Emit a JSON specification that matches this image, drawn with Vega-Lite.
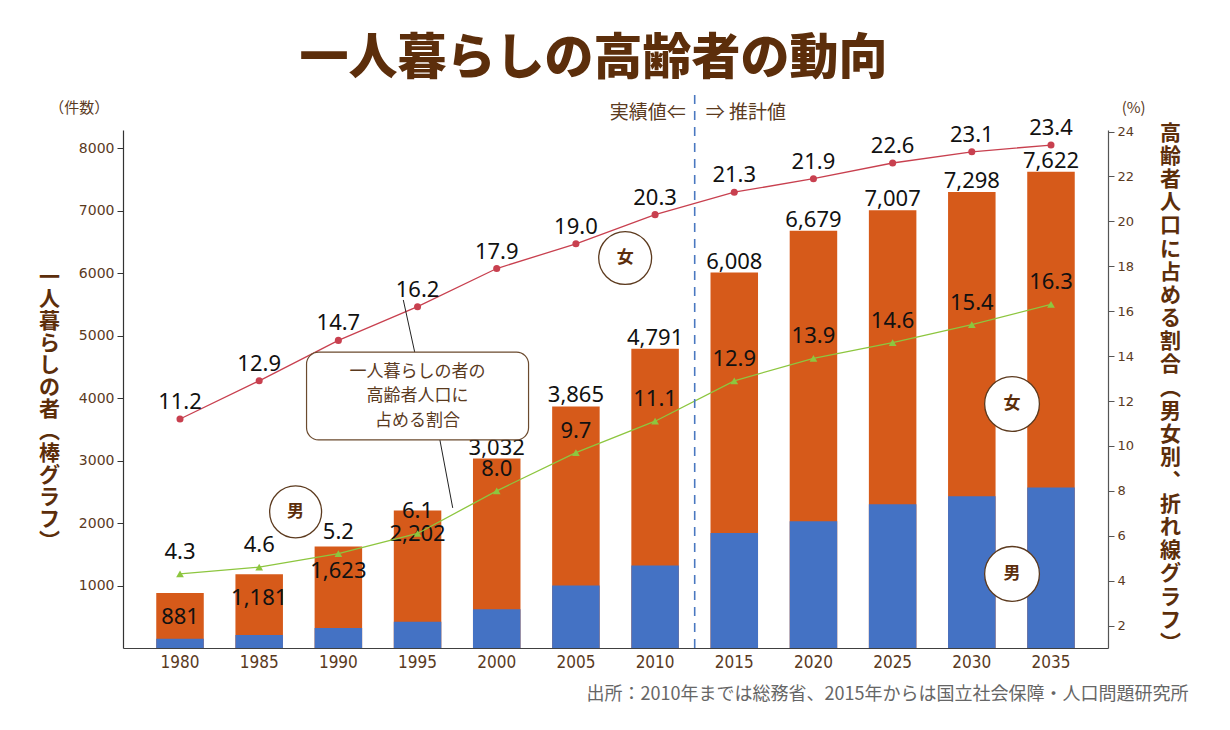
{
  "$schema": "https://vega.github.io/schema/vega-lite/v6.json",
  "width": 985,
  "height": 518,
  "autosize": {"type": "none"},
  "padding": {"left": 123, "top": 130, "right": 122, "bottom": 82},
  "background": "white",
  "config": {"view": {"stroke": null}, "font": "Noto Sans CJK JP"},
  "title": {"text": "一人暮らしの高齢者の動向", "font": "Noto Sans CJK JP", "fontSize": 49, "fontWeight": 900, "color": "#5C2E0B", "anchor": "middle", "frame": "group", "dx": -22, "offset": 10},
  "datasets": {
    "counts": [
      {"year": "1980", "total": 881, "male": 150},
      {"year": "1985", "total": 1181, "male": 210},
      {"year": "1990", "total": 1623, "male": 320},
      {"year": "1995", "total": 2202, "male": 420},
      {"year": "2000", "total": 3032, "male": 620},
      {"year": "2005", "total": 3865, "male": 1000},
      {"year": "2010", "total": 4791, "male": 1320},
      {"year": "2015", "total": 6008, "male": 1840},
      {"year": "2020", "total": 6679, "male": 2030},
      {"year": "2025", "total": 7007, "male": 2300},
      {"year": "2030", "total": 7298, "male": 2430},
      {"year": "2035", "total": 7622, "male": 2570}
    ],
    "rates": [
      {"year": "1980", "sex": "女", "pct": 11.2},
      {"year": "1985", "sex": "女", "pct": 12.9},
      {"year": "1990", "sex": "女", "pct": 14.7},
      {"year": "1995", "sex": "女", "pct": 16.2},
      {"year": "2000", "sex": "女", "pct": 17.9},
      {"year": "2005", "sex": "女", "pct": 19.0},
      {"year": "2010", "sex": "女", "pct": 20.3},
      {"year": "2015", "sex": "女", "pct": 21.3},
      {"year": "2020", "sex": "女", "pct": 21.9},
      {"year": "2025", "sex": "女", "pct": 22.6},
      {"year": "2030", "sex": "女", "pct": 23.1},
      {"year": "2035", "sex": "女", "pct": 23.4},
      {"year": "1980", "sex": "男", "pct": 4.3},
      {"year": "1985", "sex": "男", "pct": 4.6},
      {"year": "1990", "sex": "男", "pct": 5.2},
      {"year": "1995", "sex": "男", "pct": 6.1},
      {"year": "2000", "sex": "男", "pct": 8.0},
      {"year": "2005", "sex": "男", "pct": 9.7},
      {"year": "2010", "sex": "男", "pct": 11.1},
      {"year": "2015", "sex": "男", "pct": 12.9},
      {"year": "2020", "sex": "男", "pct": 13.9},
      {"year": "2025", "sex": "男", "pct": 14.6},
      {"year": "2030", "sex": "男", "pct": 15.4},
      {"year": "2035", "sex": "男", "pct": 16.3}
    ]
  },
  "layer": [
    {
      "data": {"name": "counts"},
      "encoding": {
        "x": {
          "field": "year", "type": "ordinal",
          "scale": {"paddingInner": 0.4, "paddingOuter": 0.42},
          "axis": {
            "labelAngle": 0, "ticks": false, "labelPadding": 6, "domainColor": "#404040", "domainWidth": 1.2,
            "labelColor": "#5A3A1E", "labelFont": "Liberation Sans Narrow, DejaVu Sans Condensed, Liberation Sans", "labelFontSize": 17,
            "title": "出所：2010年までは総務省、2015年からは国立社会保障・人口問題研究所",
            "titleFont": "Noto Sans CJK JP", "titleFontWeight": "normal", "titleFontSize": 18, "titleColor": "#666666",
            "titleX": 1065, "titleY": 46, "titleAlign": "right", "titleBaseline": "middle", "titleAnchor": "end"
          }
        }
      },
      "layer": [
        {
          "mark": {"type": "bar", "color": "#D65A1A"},
          "encoding": {
            "y": {
              "field": "total", "type": "quantitative",
              "scale": {"domain": [0, 8290], "nice": false, "zero": true},
              "axis": {
                "values": [1000, 2000, 3000, 4000, 5000, 6000, 7000, 8000], "format": "d",
                "grid": false, "tickSize": 6, "tickColor": "#333333", "domainColor": "#333333", "domainWidth": 1.2,
                "labelFont": "DejaVu Sans", "labelFontSize": 14, "labelColor": "#5A3A1E", "labelPadding": 3,
                "title": ["一", "人", "暮", "ら", "し", "の", "者", "︵", "棒", "グ", "ラ", "フ", "︶"],
                "titleAngle": 0, "titleX": -74, "titleY": 147, "titleAlign": "center", "titleBaseline": "middle",
                "titleFont": "Noto Sans CJK JP", "titleFontWeight": "bold", "titleFontSize": 21, "titleLineHeight": 22, "titleColor": "#5C2E0B"
              }
            }
          }
        },
        {
          "mark": {"type": "bar", "color": "#4472C4"},
          "encoding": {"y": {"field": "male", "type": "quantitative"}}
        },
        {
          "transform": [{"filter": "datum.year > '1995'"}],
          "mark": {"type": "text", "font": "Noto Sans", "fontSize": 22, "color": "#111111", "baseline": "alphabetic", "dy": -4},
          "encoding": {
            "y": {"field": "total", "type": "quantitative"},
            "text": {"field": "total", "type": "quantitative", "format": ","}
          }
        },
        {
          "transform": [{"filter": "datum.year <= '1995'"}],
          "mark": {"type": "text", "font": "Noto Sans", "fontSize": 22, "color": "#111111", "baseline": "top", "dy": 14},
          "encoding": {
            "y": {"field": "total", "type": "quantitative"},
            "text": {"field": "total", "type": "quantitative", "format": ","}
          }
        }
      ]
    },
    {
      "data": {"name": "rates"},
      "layer": [
        {
          "mark": {"type": "line", "strokeWidth": 1.3},
          "encoding": {
            "x": {"field": "year", "type": "ordinal"},
            "y": {
              "field": "pct", "type": "quantitative",
              "scale": {"domain": [1.0, 24.07], "nice": false, "zero": false},
              "axis": {
                "orient": "right",
                "values": [2, 4, 6, 8, 10, 12, 14, 16, 18, 20, 22, 24],
                "grid": false, "tickSize": 6, "tickColor": "#555555", "domainColor": "#555555", "domainWidth": 1.2,
                "labelFont": "DejaVu Sans", "labelFontSize": 13, "labelColor": "#5A3A1E", "labelPadding": 3,
                "title": ["高", "齢", "者", "人", "口", "に", "占", "め", "る", "割", "合", "︵", "男", "女", "別", "︑", "折", "れ", "線", "グ", "ラ", "フ", "︶"],
                "titleAngle": 0, "titleX": 62, "titleY": 3, "titleAlign": "center", "titleBaseline": "middle",
                "titleFont": "Noto Sans CJK JP", "titleFontWeight": "bold", "titleFontSize": 21, "titleLineHeight": 23.2, "titleColor": "#5C2E0B"
              }
            },
            "color": {"field": "sex", "type": "nominal", "scale": {"domain": ["女", "男"], "range": ["#C8404F", "#8DC63F"]}, "legend": null}
          }
        },
        {
          "mark": {"type": "point", "filled": true, "opacity": 1},
          "encoding": {
            "x": {"field": "year", "type": "ordinal"},
            "y": {"field": "pct", "type": "quantitative"},
            "color": {"field": "sex", "type": "nominal", "scale": {"domain": ["女", "男"], "range": ["#D0202E", "#7DBE36"]}, "legend": null},
            "shape": {"field": "sex", "type": "nominal", "scale": {"domain": ["女", "男"], "range": ["circle", "triangle-up"]}, "legend": null},
            "size": {"field": "sex", "type": "nominal", "scale": {"domain": ["女", "男"], "range": [50, 60]}, "legend": null}
          }
        },
        {
          "transform": [{"filter": "datum.sex === '女'"}],
          "mark": {"type": "text", "font": "Noto Sans", "fontSize": 22, "color": "#111111", "baseline": "alphabetic", "dy": -10},
          "encoding": {
            "x": {"field": "year", "type": "ordinal"},
            "y": {"field": "pct", "type": "quantitative"},
            "text": {"field": "pct", "type": "quantitative", "format": ".1f"}
          }
        },
        {
          "transform": [{"filter": "datum.sex === '男'"}],
          "mark": {"type": "text", "font": "Noto Sans", "fontSize": 22, "color": "#111111", "baseline": "alphabetic", "dy": -15},
          "encoding": {
            "x": {"field": "year", "type": "ordinal"},
            "y": {"field": "pct", "type": "quantitative"},
            "text": {"field": "pct", "type": "quantitative", "format": ".1f"}
          }
        },
        {
          "data": {"values": [{}]},
          "mark": {"type": "rule", "color": "#4A78C0", "strokeWidth": 1.6, "strokeDash": [9, 7]},
          "encoding": {
            "x": {"datum": "2015", "type": "ordinal", "bandPosition": -0.333},
            "y": {"datum": 25.63, "type": "quantitative"},
            "y2": {"datum": 1.0}
          }
        },
        {
          "data": {"values": [{}]},
          "mark": {"type": "text", "text": "実績値⇐", "align": "right", "baseline": "middle", "dx": -9, "fontSize": 19, "color": "#5A3A1E", "font": "Noto Sans CJK JP"},
          "encoding": {
            "x": {"datum": "2015", "type": "ordinal", "bandPosition": -0.333},
            "y": {"datum": 24.83, "type": "quantitative"}
          }
        },
        {
          "data": {"values": [{}]},
          "mark": {"type": "text", "text": "⇒ 推計値", "align": "left", "baseline": "middle", "dx": 11, "fontSize": 19, "color": "#5A3A1E", "font": "Noto Sans CJK JP"},
          "encoding": {
            "x": {"datum": "2015", "type": "ordinal", "bandPosition": -0.333},
            "y": {"datum": 24.83, "type": "quantitative"}
          }
        },
        {
          "data": {"values": [{}]},
          "mark": {"type": "text", "text": "（件数）", "align": "center", "baseline": "middle", "fontSize": 15, "color": "#5A3A1E", "font": "Noto Sans CJK JP"},
          "encoding": {
            "x": {"datum": "1980", "type": "ordinal", "bandPosition": -1.62},
            "y": {"datum": 25.05, "type": "quantitative"}
          }
        },
        {
          "data": {"values": [{}]},
          "mark": {"type": "text", "text": "(%)", "align": "center", "baseline": "middle", "fontSize": 15, "color": "#5A3A1E", "font": "Noto Sans CJK JP"},
          "encoding": {
            "x": {"datum": "2035", "type": "ordinal", "bandPosition": 2.24},
            "y": {"datum": 25.05, "type": "quantitative"}
          }
        },
        {
          "data": {"values": [{}]},
          "mark": {"type": "rule", "color": "#222222", "strokeWidth": 1},
          "encoding": {
            "x": {"datum": "1995", "type": "ordinal", "bandPosition": 0.2},
            "x2": {"datum": "1995", "bandPosition": 0.44},
            "y": {"datum": 16.5, "type": "quantitative"},
            "y2": {"datum": 14.18}
          }
        },
        {
          "data": {"values": [{}]},
          "mark": {"type": "rule", "color": "#222222", "strokeWidth": 1},
          "encoding": {
            "x": {"datum": "1995", "type": "ordinal", "bandPosition": 0.97},
            "x2": {"datum": "1995", "bandPosition": 1.24},
            "y": {"datum": 10.27, "type": "quantitative"},
            "y2": {"datum": 7.24}
          }
        },
        {
          "data": {"values": [{}]},
          "mark": {"type": "bar", "width": 222, "cornerRadius": 12, "fill": "white", "stroke": "#6B4A2E", "strokeWidth": 1.2},
          "encoding": {
            "x": {"datum": "1995", "type": "ordinal"},
            "y": {"datum": 14.18, "type": "quantitative"},
            "y2": {"datum": 10.27}
          }
        },
        {
          "data": {"values": [{}]},
          "mark": {"type": "text", "text": ["一人暮らしの者の", "高齢者人口に", "占める割合"], "align": "center", "baseline": "middle", "fontSize": 17, "lineHeight": 24.5, "color": "#5A3A1E", "font": "Noto Sans CJK JP"},
          "encoding": {
            "x": {"datum": "1995", "type": "ordinal", "bandPosition": 0.5},
            "y": {"datum": 13.3, "type": "quantitative"}
          }
        },
        {
          "data": {"values": [{"label": "女", "pos": 18.37}]},
          "layer": [
            {"mark": {"type": "point", "shape": "circle", "size": 2800, "filled": true, "fill": "white", "stroke": "#5C3A1E", "strokeWidth": 1.3, "opacity": 1}},
            {"mark": {"type": "text", "fontSize": 17, "fontWeight": "bold", "color": "#5C2E0B", "font": "Noto Sans CJK JP", "baseline": "middle"}, "encoding": {"text": {"field": "label"}}}
          ],
          "encoding": {
            "x": {"datum": "2010", "type": "ordinal", "bandPosition": -0.13},
            "y": {"field": "pos", "type": "quantitative"}
          }
        },
        {
          "data": {"values": [{"label": "男", "pos": 7.06}]},
          "layer": [
            {"mark": {"type": "point", "shape": "circle", "size": 2700, "filled": true, "fill": "white", "stroke": "#5C3A1E", "strokeWidth": 1.3, "opacity": 1}},
            {"mark": {"type": "text", "fontSize": 17, "fontWeight": "bold", "color": "#5C2E0B", "font": "Noto Sans CJK JP", "baseline": "middle"}, "encoding": {"text": {"field": "label"}}}
          ],
          "encoding": {
            "x": {"datum": "1990", "type": "ordinal", "bandPosition": -0.4},
            "y": {"field": "pos", "type": "quantitative"}
          }
        },
        {
          "data": {"values": [{"label": "女", "pos": 11.87}, {"label": "男", "pos": 4.3}]},
          "layer": [
            {"mark": {"type": "point", "shape": "circle", "size": 3000, "filled": true, "fill": "white", "stroke": "#5C3A1E", "strokeWidth": 1.3, "opacity": 1}},
            {"mark": {"type": "text", "fontSize": 17, "fontWeight": "bold", "color": "#5C2E0B", "font": "Noto Sans CJK JP", "baseline": "middle"}, "encoding": {"text": {"field": "label"}}}
          ],
          "encoding": {
            "x": {"datum": "2035", "type": "ordinal", "bandPosition": -0.32},
            "y": {"field": "pos", "type": "quantitative"}
          }
        }
      ]
    }
  ],
  "resolve": {"scale": {"y": "independent"}}
}
